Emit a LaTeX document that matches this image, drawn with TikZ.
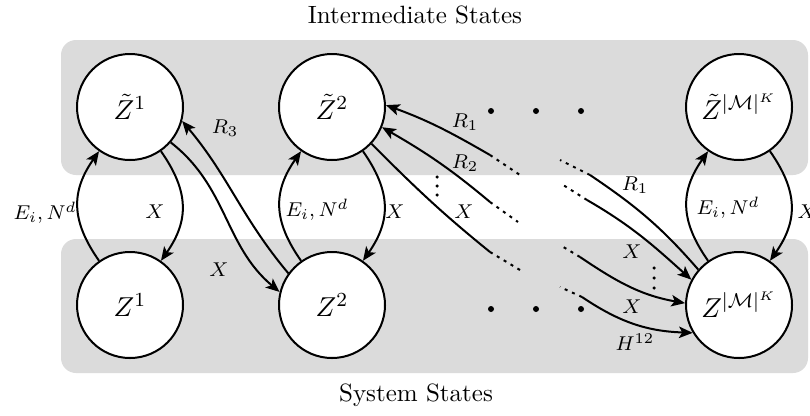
\documentclass[tikz,border=0pt]{standalone}
\usepackage{amssymb}
\usepackage{amsmath}
\usetikzlibrary{arrows.meta,calc}

\begin{document}
\begin{tikzpicture}[x=0.4pt, y=0.4pt,
    state/.style={draw, thick, circle, fill=white, minimum size=42.4pt, inner sep=0pt, font=\fontsize{11}{13}\selectfont},
    band/.style={fill=black!14, rounded corners=6pt},
    lbl/.style={font=\footnotesize, inner sep=0pt},
    link/.style={thick, -{Stealth[length=5.5pt, width=4.6pt, inset=1.3pt]}},
    brk/.style={thick, dash pattern=on 1.2pt off 2pt}]
    \useasboundingbox (0,0) rectangle (810,415);
    % bands
    \fill[band] (61,240) rectangle (808,375);
    \fill[band] (61,42) rectangle (808,176);
    \node (top) at (415,400) {Intermediate States};
    \node (bot) at (416,20) {System States};
    % states
    \node[state] (Zt1) at (130,308) {$\tilde{Z}^1$};
    \node[state] (Z1) at (130,110) {$Z^1$};
    \node[state] (Zt2) at (332,308) {$\tilde{Z}^2$};
    \node[state] (Z2) at (332,110) {$Z^2$};
    \node[state] (ZtM) at (739,308) {$\tilde{Z}^{|\mathcal{M}|^K}$};
    \node[state] (ZM) at (739,110) {$Z^{|\mathcal{M}|^K}$};
    % dots
    \foreach \x in {491,536,581} {\fill (\x,304) circle (1.2pt); \fill (\x,106) circle (1.2pt);}
    \foreach \y in {220,229,238} {\fill (437,\y) circle (0.7pt);}
    \foreach \y in {127,137,147} {\fill (654,\y) circle (0.7pt);}
    % loops inside a column
    \foreach \c in {1,2,M} {
        \draw[link] (Z\c.125) to[out=125, in=-125, looseness=1.15] (Zt\c.-125);
        \draw[link] (Zt\c.-55) to[out=-55, in=55, looseness=1.15] (Z\c.55);
    }
    \node[lbl, anchor=east] (e1) at (77,202) {$E_i, N^d$};
    \node[lbl] (x1) at (155,203) {$X$};
    \node[lbl] (e2) at (317,205) {$E_i, N^d$};
    \node[lbl] (x2) at (395,203) {$X$};
    \node[lbl] (eM) at (728,207) {$E_i, N^d$};
    \node[lbl, anchor=west] (xM) at (797,203) {$X$};
    % break points
    \coordinate (r1a) at (490,260); \coordinate (r1b) at (520,240);
    \coordinate (r2a) at (490,213); \coordinate (r2b) at (518,193);
    \coordinate (x2a) at (490,163); \coordinate (x2b) at (520,145);
    \coordinate (r1c) at (590,240); \coordinate (r1d) at (560,255);
    \coordinate (x3c) at (587,215); \coordinate (x3d) at (560,232);
    \coordinate (x4c) at (580,158); \coordinate (x4d) at (560,170);
    \coordinate (h1c) at (582,118); \coordinate (h1d) at (560,128);
    % between columns
    \draw[link] (Zt1.-41) to[out=-38, in=140] (Z2.166);
    \draw[link] (Z2.144) to[out=130, in=-50] (Zt1.-15);
    \draw[link] (r1a) to[out=150, in=-20] (Zt2.2);
    \draw[link] (r2a) to[out=140, in=-30] (Zt2.-22);
    \draw[thick] (Zt2.-43) to[out=-45, in=141] (x2a);
    \draw[thick] (ZM.139) to[out=131, in=-34] (r1c);
    \draw[link] (x3c) to[out=-30, in=138] (ZM.152);
    \draw[link] (x4c) to[out=-34, in=170] (ZM.178);
    \draw[link] (h1c) to[out=-34, in=178] (ZM.-149);
    \foreach \a/\b in {r1a/r1b, r2a/r2b, x2a/x2b, r1c/r1d, x3c/x3d, x4c/x4d, h1c/h1d} {\draw[brk] (\a) -- (\b);}
    \node[lbl] (r3) at (225,287) {$R_3$};
    \node[lbl] (x12) at (219,145) {$X$};
    \node[lbl] (r1) at (465,293) {$R_1$};
    \node[lbl] (r2) at (465,252) {$R_2$};
    \node[lbl] (x2M) at (464,203) {$X$};
    \node[lbl] (r1M) at (635,230) {$R_1$};
    \node[lbl] (xa) at (632,163) {$X$};
    \node[lbl] (xb) at (632,108) {$X$};
    \node[lbl] (h12) at (635,73) {$H^{12}$};
\end{tikzpicture}
\end{document}
